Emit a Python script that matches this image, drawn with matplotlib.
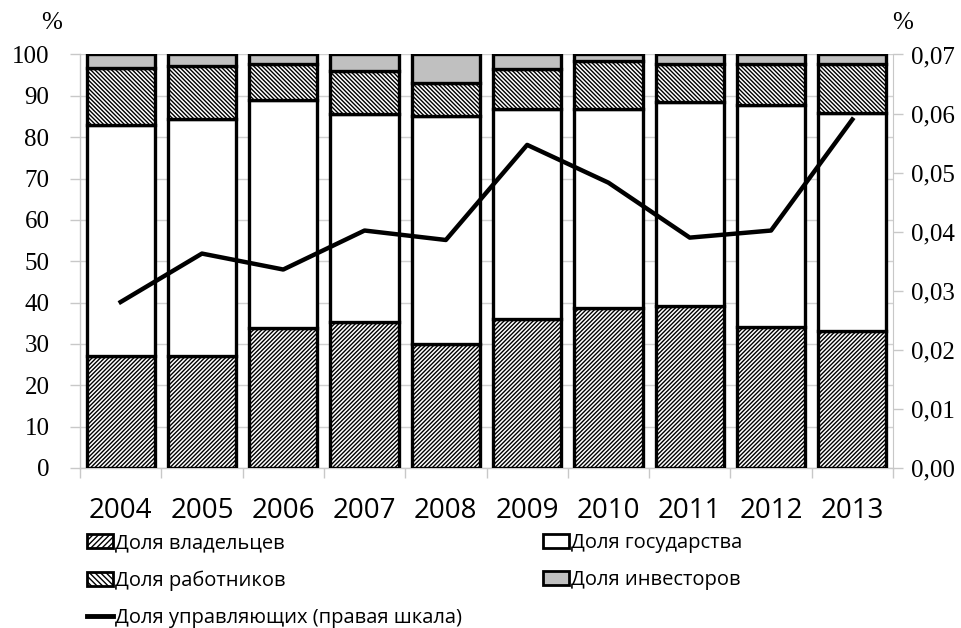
import matplotlib
matplotlib.use("Agg")
import matplotlib.pyplot as plt
import numpy as np
from matplotlib.patches import Patch
from matplotlib.lines import Line2D
from matplotlib.ticker import FuncFormatter

years = ["2004", "2005", "2006", "2007", "2008", "2009", "2010", "2011", "2012", "2013"]
owners = [27.0, 27.1, 33.9, 35.4, 30.0, 36.1, 38.8, 39.2, 34.0, 33.2]
state_top = [83.0, 84.5, 88.9, 85.5, 85.2, 86.7, 86.7, 88.4, 87.9, 85.9]
workers_top = [96.8, 97.2, 97.6, 96.1, 93.1, 96.6, 98.5, 97.6, 97.6, 97.6]
managers = [0.0281, 0.0363, 0.0336, 0.0402, 0.0386, 0.0547, 0.0483, 0.0390, 0.0402, 0.0590]

owners = np.array(owners)
state = np.array(state_top) - owners
workers = np.array(workers_top) - np.array(state_top)
investors = 100 - np.array(workers_top)

labels = ["Доля владельцев", "Доля государства", "Доля работников", "Доля инвесторов",
          "Доля управляющих (правая шкала)"]

plt.rcParams['hatch.linewidth'] = 1.0
fig = plt.figure(figsize=(9.62, 6.28), dpi=100)
L, R, T, B = 80, 893, 54.5, 468
ax = fig.add_axes([L/962, 1-B/628, (R-L)/962, (B-T)/628])
x = np.arange(len(years))
w = 0.84
lw = 2.4
H1 = "/" * 8
H2 = "\\" * 8
ax.bar(x, owners, w, color="white", edgecolor="black", hatch=H1, linewidth=lw, zorder=3)
ax.bar(x, state, w, bottom=owners, color="white", edgecolor="black", linewidth=lw, zorder=3)
ax.bar(x, workers, w, bottom=owners+state, color="white", edgecolor="black", hatch=H2, linewidth=lw, zorder=3)
ax.bar(x, investors, w, bottom=owners+state+workers, color="#c0c0c0", edgecolor="black", linewidth=lw, zorder=3)

ax.set_xlim(-0.5, 9.5)
ax.set_ylim(0, 100)
ax.set_yticks(range(0, 101, 10))
ax.yaxis.grid(True, color="#d0d0d0", linewidth=1.0, zorder=0)
ax.set_axisbelow(True)
for s in ["top", "right"]:
    ax.spines[s].set_visible(False)
for s in ["left", "bottom"]:
    ax.spines[s].set_color("#c8c8c8")
    ax.spines[s].set_linewidth(1.0)
ax.set_xticks(x)
ax.set_xticklabels(years, fontfamily="Open Sans", fontsize=20)
ax.tick_params(axis="x", length=0, pad=21)
ax.set_xticks(np.arange(-0.5, 10, 1), minor=True)
ax.tick_params(axis="x", which="minor", length=7, color="#c8c8c8", width=1)
ax.tick_params(axis="y", length=7, color="#c8c8c8", width=1, pad=15)
for t in ax.get_yticklabels():
    t.set_fontfamily("Liberation Serif")
    t.set_fontsize(18)

ax2 = ax.twinx()
ax2.plot(x, managers, color="black", linewidth=3.2, zorder=5)
ax2.set_ylim(0, 0.07)
ax2.set_yticks(np.arange(0, 0.0701, 0.01))
ax2.yaxis.set_major_formatter(FuncFormatter(lambda v, p: f"{v:.2f}".replace(".", ",")))
for s in ["top", "left", "bottom"]:
    ax2.spines[s].set_visible(False)
ax2.spines["right"].set_color("#c8c8c8")
ax2.tick_params(axis="y", length=7, color="#c8c8c8", width=1, pad=6)
for t in ax2.get_yticklabels():
    t.set_fontfamily("Liberation Serif")
    t.set_fontsize(18)

fig.text(52/962, 1-23/628, "%", fontfamily="Liberation Serif", fontsize=18, ha="center", va="center")
fig.text(903/962, 1-23/628, "%", fontfamily="Liberation Serif", fontsize=18, ha="center", va="center")

h_own = Patch(facecolor="white", edgecolor="black", hatch="/" * 6, linewidth=2)
h_state = Patch(facecolor="white", edgecolor="black", linewidth=2)
h_work = Patch(facecolor="white", edgecolor="black", hatch="\\" * 6, linewidth=2)
h_inv = Patch(facecolor="#c0c0c0", edgecolor="black", linewidth=2)
h_man = Line2D([0], [0], color="black", linewidth=3.5)
handles = [h_own, h_work, h_man, h_state, h_inv]
labs = [labels[0], labels[2], labels[4], labels[1], labels[3]]
leg = fig.legend(handles, labs, ncol=2, loc="upper left", bbox_to_anchor=(87/962, 1-533/628),
                 frameon=False, prop={"family": "Open Sans", "size": 14.5},
                 handlelength=1.3, handleheight=0.7, handletextpad=0.1,
                 columnspacing=4.0, labelspacing=0.86, borderaxespad=0, borderpad=0)

fig.savefig("out.png", dpi=100)
